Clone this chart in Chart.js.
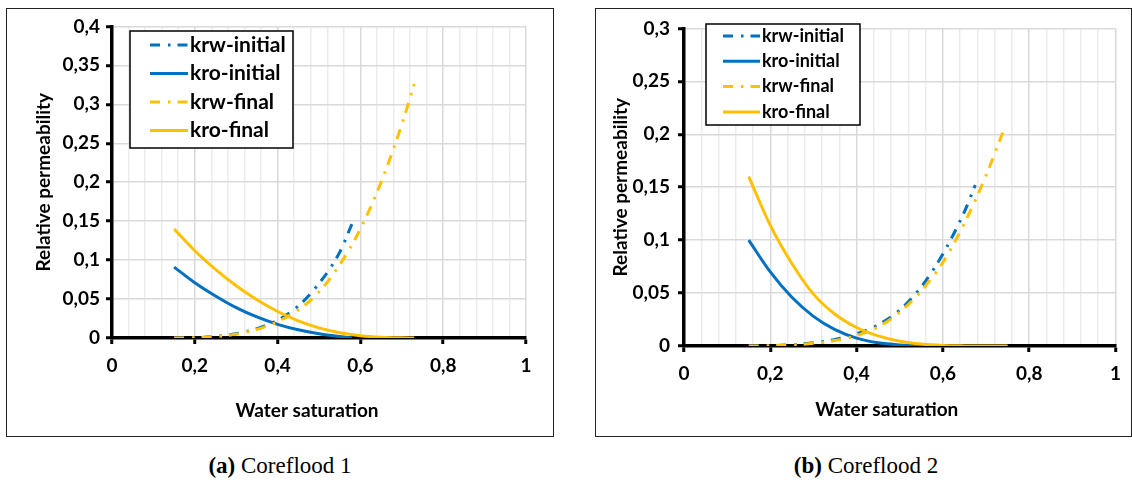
<!DOCTYPE html>
<html>
<head>
<meta charset="utf-8">
<script src="https://cdn.jsdelivr.net/npm/chart.js@4.4.1/dist/chart.umd.min.js"></script>
<style>
  html, body { margin: 0; padding: 0; background: #fff; }
  body { width: 1132px; height: 486px; position: relative; overflow: hidden; }
  .panel { position: absolute; top: 8px; height: 429px; border: 1px solid #222; box-sizing: border-box; background: #fff; }
  #p1 { left: 6px; width: 548px; }
  #p2 { left: 595px; width: 537px; }
  .panel canvas { position: absolute; left: 0; top: 0; }
  .cap { position: absolute; top: 453px; line-height: 28px; font: 23px "Liberation Serif", "Times New Roman", serif; transform: translateX(-50%); white-space: nowrap; color: #000; }
</style>
</head>
<body>
<div class="panel" id="p1"><canvas id="c1" width="546" height="427"></canvas></div>
<div class="panel" id="p2"><canvas id="c2" width="535" height="427"></canvas></div>
<div class="cap" style="left:280px"><b>(a)</b> Coreflood 1</div>
<div class="cap" style="left:866px"><b>(b)</b> Coreflood 2</div>
<script>
// Coreflood 1
const swKrwInit1 = [0.15, 0.2, 0.25, 0.3, 0.35, 0.4, 0.45, 0.5, 0.55, 0.58];
const krwInit1   = [0, 0.0004, 0.002, 0.0055, 0.012, 0.023, 0.041, 0.07, 0.11, 0.147];
const swKroInit1 = [0.15, 0.2, 0.25, 0.3, 0.35, 0.4, 0.45, 0.5, 0.55, 0.58];
const kroInit1   = [0.091, 0.071, 0.054, 0.039, 0.027, 0.0175, 0.0105, 0.0055, 0.002, 0];
const swFinal1   = [0.15, 0.2, 0.25, 0.3, 0.35, 0.4, 0.45, 0.5, 0.55, 0.6, 0.65, 0.7, 0.73];
const krwFinal1  = [0, 0.0004, 0.0018, 0.005, 0.011, 0.021, 0.036, 0.059, 0.094, 0.14, 0.2, 0.274, 0.326];
const kroFinal1  = [0.14, 0.112, 0.088, 0.067, 0.049, 0.034, 0.022, 0.013, 0.0068, 0.003, 0.001, 0.0002, 0];

// Coreflood 2
const swKrwInit2 = [0.15, 0.2, 0.25, 0.3, 0.35, 0.4, 0.45, 0.5, 0.55, 0.6, 0.65, 0.675];
const krwInit2   = [0, 0.0003, 0.0012, 0.003, 0.0062, 0.0115, 0.02, 0.034, 0.056, 0.087, 0.127, 0.152];
const swKroInit2 = [0.15, 0.2, 0.25, 0.3, 0.35, 0.4, 0.45, 0.5, 0.55, 0.6];
const kroInit2   = [0.1, 0.07, 0.046, 0.028, 0.0155, 0.0075, 0.003, 0.001, 0.0002, 0];
const swKrwFin2  = [0.15, 0.2, 0.25, 0.3, 0.35, 0.4, 0.45, 0.5, 0.55, 0.6, 0.65, 0.7, 0.74];
const krwFinal2  = [0, 0.0003, 0.001, 0.0025, 0.0052, 0.0098, 0.018, 0.032, 0.052, 0.079, 0.116, 0.161, 0.203];
const swKroFin2  = [0.15, 0.2, 0.25, 0.3, 0.35, 0.4, 0.45, 0.5, 0.55, 0.6, 0.65, 0.7, 0.75];
const kroFinal2  = [0.16, 0.114, 0.078, 0.049, 0.03, 0.0175, 0.0095, 0.0045, 0.0018, 0.0005, 0.0001, 0, 0];

const seriesNames = ['krw-initial', 'kro-initial', 'krw-final', 'kro-final'];
const yMax1 = 0.4, yMax2 = 0.3;
const xTitle = 'Water saturation', yTitle = 'Relative permeability';

const BLUE = '#0070C0', GOLD = '#FFC000';
const DASH_DOT = [10, 8, 2.5, 7];

Chart.defaults.font.family = 'Lato';

function series(label, xs, ys, color, dashed, order) {
  return {
    label, order,
    data: xs.map((x, i) => ({ x, y: ys[i] })),
    borderColor: color, backgroundColor: color,
    borderWidth: 3, borderDash: dashed ? DASH_DOT : [],
    borderCapStyle: 'butt',
    pointRadius: 0, cubicInterpolationMode: 'monotone', fill: false
  };
}

function isMajor(v, step) { const r = v / step; return Math.abs(r - Math.round(r)) < 1e-6; }
function fmt(v) { return String(+v.toFixed(2)).replace('.', ','); }

// legend drawn as a framed box inside the plot
const boxLegend = {
  id: 'boxLegend',
  afterDraw(chart, args, o) {
    const ctx = chart.ctx;
    ctx.save();
    ctx.fillStyle = '#fff';
    ctx.fillRect(o.bx, o.by, o.bw, o.bh);
    ctx.strokeStyle = '#000'; ctx.lineWidth = 1.5;
    ctx.strokeRect(o.bx, o.by, o.bw, o.bh);
    ctx.font = 'bold ' + o.size + 'px Lato';
    ctx.textBaseline = 'middle';
    chart.data.datasets.forEach((ds, i) => {
      const y = o.rowY + i * o.rowGap;
      ctx.strokeStyle = ds.borderColor; ctx.lineWidth = ds.borderWidth;
      ctx.setLineDash(ds.borderDash);
      ctx.beginPath(); ctx.moveTo(o.sx, y); ctx.lineTo(o.sx + o.sw, y); ctx.stroke();
      ctx.setLineDash([]);
      ctx.fillStyle = '#000';
      ctx.fillText(ds.label, o.tx, y);
    });
    ctx.restore();
  }
};

const axisTitles = {
  id: 'axisTitles',
  afterDraw(chart, args, o) {
    const { ctx, chartArea: a } = chart;
    ctx.save();
    ctx.font = 'bold 19px Lato'; ctx.fillStyle = '#000';
    ctx.textAlign = 'center'; ctx.textBaseline = 'middle';
    ctx.fillText(o.xText, (a.left + a.right) / 2 + o.xShift, a.bottom + o.xDrop);
    ctx.translate(o.yAt, (a.top + a.bottom) / 2);
    ctx.rotate(-Math.PI / 2);
    ctx.fillText(o.yText, 0, 0);
    ctx.restore();
  }
};

function makeChart(id, datasets, yMax, lay) {
  return new Chart(document.getElementById(id), {
    type: 'line',
    data: { datasets },
    plugins: [boxLegend, axisTitles],
    options: {
      responsive: false, animation: false, events: [],
      layout: { padding: { left: 0, top: lay.top, right: lay.right, bottom: 0 } },
      plugins: {
        legend: { display: false }, tooltip: { enabled: false },
        boxLegend: lay.legend,
        axisTitles: Object.assign({ xText: xTitle, yText: yTitle }, lay.titles)
      },
      scales: {
        x: {
          type: 'linear', min: 0, max: 1,
          ticks: {
            stepSize: 0.04, autoSkip: false, maxRotation: 0, padding: lay.xPad,
            color: '#000', font: { size: 19, weight: 'bold' },
            callback: v => isMajor(v, 0.2) ? fmt(v) : ''
          },
          grid: {
            color: c => isMajor(c.tick.value, 0.2) ? '#d9d9d9' : '#ececec',
            lineWidth: 1.5, tickLength: 6, tickWidth: 3,
            tickColor: c => isMajor(c.tick.value, 0.2) ? '#000' : 'rgba(0,0,0,0)'
          },
          border: { color: '#000', width: 3.5 },
          afterFit: s => { s.height = lay.xHeight; }
        },
        y: {
          type: 'linear', min: 0, max: yMax,
          ticks: {
            stepSize: 0.05, autoSkip: false, padding: lay.yPad,
            color: '#000', font: { size: 19, weight: 'bold' },
            callback: v => fmt(v)
          },
          grid: { color: '#d9d9d9', lineWidth: 1.5, tickLength: 6, tickWidth: 3, tickColor: '#000' },
          border: { color: '#000', width: 3.5 },
          afterFit: s => { s.width = lay.yWidth; }
        }
      }
    }
  });
}

makeChart('c1', [
  series(seriesNames[0], swKrwInit1, krwInit1, BLUE, true, 4),
  series(seriesNames[1], swKroInit1, kroInit1, BLUE, false, 3),
  series(seriesNames[2], swFinal1, krwFinal1, GOLD, true, 2),
  series(seriesNames[3], swFinal1, kroFinal1, GOLD, false, 1)
], yMax1, {
  top: 11, right: 27, xHeight: 98, yWidth: 105, xPad: 10, yPad: 6,
  legend: { bx: 123, by: 22, bw: 163, bh: 117, rowY: 36, rowGap: 28.5, sx: 143, sw: 38, tx: 183, size: 21 },
  titles: { xShift: -12, xDrop: 73, yAt: 37 }
});

makeChart('c2', [
  series(seriesNames[0], swKrwInit2, krwInit2, BLUE, true, 4),
  series(seriesNames[1], swKroInit2, kroInit2, BLUE, false, 3),
  series(seriesNames[2], swKrwFin2, krwFinal2, GOLD, true, 2),
  series(seriesNames[3], swKroFin2, kroFinal2, GOLD, false, 1)
], yMax2, {
  top: 13, right: 15, xHeight: 90, yWidth: 88, xPad: 10, yPad: 8,
  legend: { bx: 110, by: 15, bw: 154, bh: 101, rowY: 27, rowGap: 25.3, sx: 127, sw: 37, tx: 166, size: 18 },
  titles: { xShift: -13, xDrop: 64, yAt: 25 }
});
</script>
</body>
</html>
